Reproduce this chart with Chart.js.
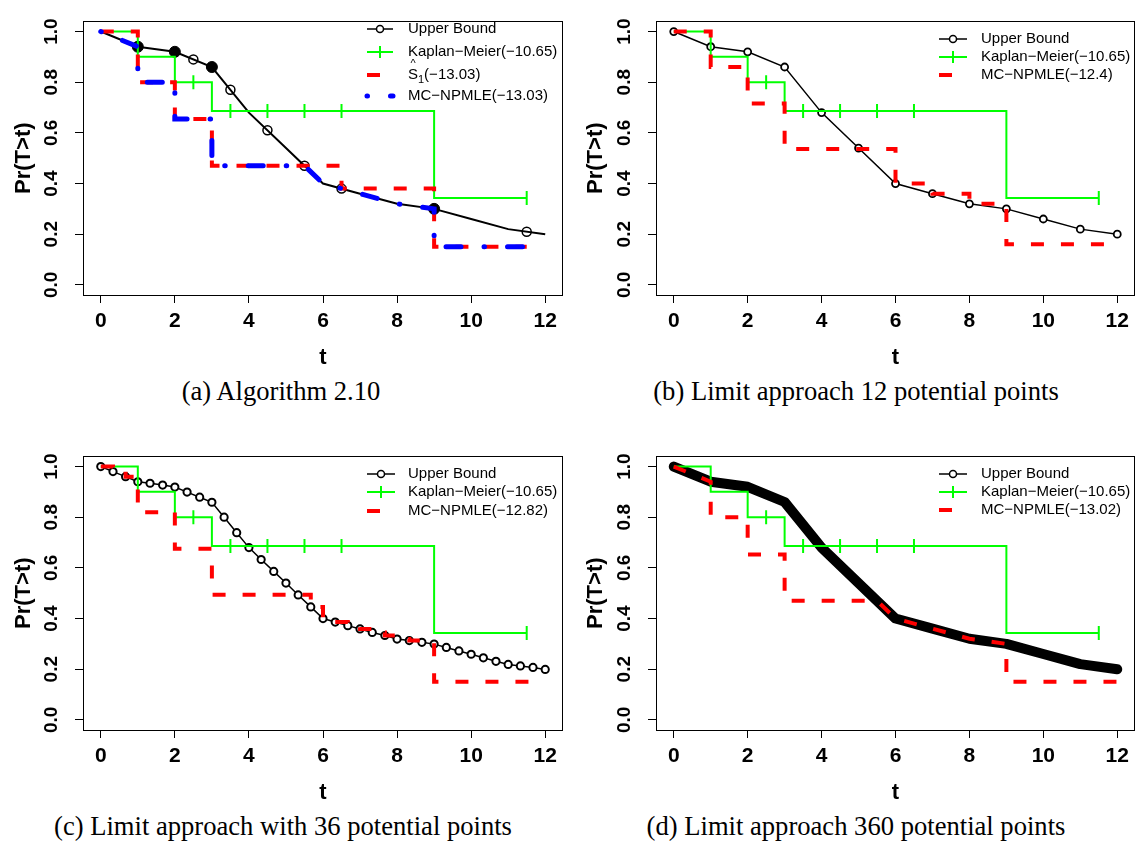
<!DOCTYPE html>
<html>
<head>
<meta charset="utf-8">
<script src="https://cdn.jsdelivr.net/npm/chart.js@4.4.1/dist/chart.umd.min.js"></script>
<style>
body{margin:0;background:#fff;width:1144px;height:846px;position:relative;overflow:hidden}
canvas{position:absolute}
.cap{position:absolute;font-family:"Liberation Serif","Times New Roman",serif;font-size:26.6px;line-height:30px;color:#000;white-space:nowrap;transform:translateX(-50%)}
</style>
</head>
<body>
<canvas id="ca" width="572" height="375" style="left:0;top:0"></canvas>
<canvas id="cb" width="572" height="375" style="left:572px;top:0"></canvas>
<canvas id="cc" width="572" height="375" style="left:0;top:435px"></canvas>
<canvas id="cd" width="572" height="375" style="left:572px;top:435px"></canvas>
<div class="cap" style="left:281px;top:376px">(a) Algorithm 2.10</div>
<div class="cap" style="left:856px;top:376px">(b) Limit approach 12 potential points</div>
<div class="cap" style="left:283px;top:811px">(c) Limit approach with 36 potential points</div>
<div class="cap" style="left:856px;top:811px">(d) Limit approach 360 potential points</div>
<script>
// axis ticks
const xTicks = [0, 2, 4, 6, 8, 10, 12];
const xTickLabels = ["0", "2", "4", "6", "8", "10", "12"];
const yTicks = [0, 0.2, 0.4, 0.6, 0.8, 1.0];
const yTickLabels = ["0.0", "0.2", "0.4", "0.6", "0.8", "1.0"];

// upper bound (integer grid)
const ubT = [0, 1, 2, 3, 4, 5, 6, 7, 8, 9, 10, 11, 12];
const ubS = [1.00, 0.94, 0.92, 0.86, 0.68, 0.54, 0.40, 0.36, 0.32, 0.30, 0.26, 0.22, 0.20];

// Kaplan-Meier, same in every panel
const kmT = [0, 1, 2, 3, 9, 11.5];
const kmS = [1.00, 0.90, 0.80, 0.686, 0.343, 0.343];
const kmCensT = [2.5, 3.5, 4.5, 5.5, 6.5, 11.5];
const kmCensS = [0.80, 0.686, 0.686, 0.686, 0.686, 0.343];

// (a) Algorithm 2.10
const aOpenT = [2.5, 3.5, 4.5, 5.5, 6.5, 11.5];
const aOpenS = [0.89, 0.77, 0.61, 0.47, 0.38, 0.21];
const aFillT = [1, 2, 3, 9];
const aFillS = [0.94, 0.92, 0.86, 0.30];
const s1T = [0, 1, 2, 3, 6.5, 9, 11.5];
const s1S = [1.00, 0.80, 0.655, 0.47, 0.38, 0.15, 0.15];
const aMcT = [0, 1, 1, 2, 2, 3, 3, 5.5, 6, 7, 8, 9, 9, 11.5];
const aMcS = [1.00, 0.94, 0.80, 0.80, 0.655, 0.655, 0.47, 0.47, 0.40, 0.36, 0.32, 0.30, 0.15, 0.15];

// (b) 12 potential points
const bMcT = [0, 1, 2, 3, 6, 7, 8, 9, 12];
const bMcS = [1.00, 0.86, 0.716, 0.536, 0.40, 0.36, 0.32, 0.16, 0.16];

// (c) 36 potential points
const cUbT = [0, 0.33, 0.67, 1, 1.33, 1.67, 2, 2.33, 2.67, 3, 3.33, 3.67, 4, 4.33, 4.67, 5, 5.33, 5.67, 6,
  6.33, 6.67, 7, 7.33, 7.67, 8, 8.33, 8.67, 9, 9.33, 9.67, 10, 10.33, 10.67, 11, 11.33, 11.67, 12];
const cUbS = [1.00, 0.98, 0.96, 0.94, 0.934, 0.927, 0.919, 0.899, 0.879, 0.859, 0.80, 0.739, 0.68, 0.633, 0.586, 0.54, 0.493, 0.446, 0.40,
  0.386, 0.372, 0.359, 0.345, 0.333, 0.319, 0.313, 0.306, 0.299, 0.286, 0.272, 0.259, 0.245, 0.231, 0.219, 0.213, 0.207, 0.199];
const cMcT = [0, 0.33, 0.67, 1, 2, 3, 5.67, 6, 6.33, 6.67, 7, 7.33, 7.67, 8, 8.33, 8.67, 9, 12];
const cMcS = [1.00, 0.98, 0.96, 0.82, 0.675, 0.494, 0.446, 0.40, 0.386, 0.372, 0.359, 0.345, 0.333, 0.319, 0.313, 0.306, 0.15, 0.15];

// (d) 360 potential points
const dMcT = [0, 1, 1, 2, 2, 3, 3, 5.5, 6, 7, 8, 9, 9, 12];
const dMcS = [1.00, 0.94, 0.80, 0.80, 0.653, 0.653, 0.47, 0.47, 0.40, 0.36, 0.32, 0.30, 0.15, 0.15];

const labelsA = ["Upper Bound", "Kaplan\u2212Meier(\u221210.65)", "(\u221213.03)", "MC\u2212NPMLE(\u221213.03)"];
const labelsB = ["Upper Bound", "Kaplan\u2212Meier(\u221210.65)", "MC\u2212NPMLE(\u221212.4)"];
const labelsC = ["Upper Bound", "Kaplan\u2212Meier(\u221210.65)", "MC\u2212NPMLE(\u221212.82)"];
const labelsD = ["Upper Bound", "Kaplan\u2212Meier(\u221210.65)", "MC\u2212NPMLE(\u221213.02)"];

const FONT = '"Liberation Sans", Arial, Helvetica, sans-serif';
const GREEN = "#00ff00", RED = "#ff0000", BLUE = "#0000ff", BLACK = "#000000";
const RED_DASH = [13, 17];
const BLUE_DASH = [0.5, 23, 15, 23];

Chart.defaults.font.family = FONT;
Chart.defaults.color = "#000";

const pts = (xs, ys) => xs.map((x, i) => ({ x, y: ys[i] }));

function line(xs, ys, color, width, order, extra) {
  return Object.assign({
    data: pts(xs, ys), showLine: true, borderColor: color, backgroundColor: color,
    borderWidth: width, pointRadius: 0, fill: false, order
  }, extra || {});
}
function marks(xs, ys, order, extra) {
  return Object.assign({ data: pts(xs, ys), showLine: false, order }, extra);
}
function kmSets() {
  return [
    line(kmT, kmS, GREEN, 2, 3, { stepped: true }),
    marks(kmCensT, kmCensS, 3, { pointStyle: "line", pointRotation: 90, pointRadius: 7,
      pointBorderColor: GREEN, pointBorderWidth: 2 })
  ];
}

// legend drawn the way R does it (no frame)
const legends = {
  ca: { x: 367, len: 26, tx: 408, rows: [29, 52, 75, 96], items: [
    { text: labelsA[0], color: BLACK, width: 1.5, marker: "circle" },
    { text: labelsA[1], color: GREEN, width: 2, marker: "tick" },
    { text: labelsA[2], color: RED, width: 4, dash: RED_DASH, hat: true },
    { text: labelsA[3], color: BLUE, width: 5, dash: BLUE_DASH, cap: "round" }
  ] },
  cb: { x: 367, len: 28, tx: 409, rows: [39, 57, 75], items: [
    { text: labelsB[0], color: BLACK, width: 1.5, marker: "circle" },
    { text: labelsB[1], color: GREEN, width: 2, marker: "tick" },
    { text: labelsB[2], color: RED, width: 4, dash: RED_DASH }
  ] },
  cc: { x: 367, len: 28, tx: 408, rows: [39, 57, 76], items: [
    { text: labelsC[0], color: BLACK, width: 1.5, marker: "circle" },
    { text: labelsC[1], color: GREEN, width: 2, marker: "tick" },
    { text: labelsC[2], color: RED, width: 4, dash: RED_DASH }
  ] },
  cd: { x: 367, len: 28, tx: 409, rows: [39, 57, 75], items: [
    { text: labelsD[0], color: BLACK, width: 1.5, marker: "circle" },
    { text: labelsD[1], color: GREEN, width: 2, marker: "tick" },
    { text: labelsD[2], color: RED, width: 4, dash: RED_DASH }
  ] }
};

const rLegend = {
  id: "rLegend",
  afterDatasetsDraw(chart) {
    const L = legends[chart.canvas.id];
    const ctx = chart.ctx;
    ctx.save();
    L.items.forEach((it, i) => {
      const y = L.rows[i];
      ctx.beginPath();
      ctx.setLineDash(it.dash || []);
      ctx.lineCap = it.cap || "butt";
      ctx.strokeStyle = it.color;
      ctx.lineWidth = it.width;
      ctx.moveTo(L.x, y);
      ctx.lineTo(L.x + L.len, y);
      ctx.stroke();
      ctx.setLineDash([]);
      const mx = L.x + L.len / 2;
      if (it.marker === "circle") {
        ctx.beginPath();
        ctx.lineWidth = 1.5;
        ctx.arc(mx, y, 3.5, 0, Math.PI * 2);
        ctx.fillStyle = "#fff";
        ctx.fill();
        ctx.stroke();
      } else if (it.marker === "tick") {
        ctx.beginPath();
        ctx.lineWidth = 2;
        ctx.moveTo(mx, y - 6);
        ctx.lineTo(mx, y + 6);
        ctx.stroke();
      }
      ctx.fillStyle = "#000";
      ctx.textBaseline = "middle";
      ctx.textAlign = "left";
      ctx.font = "15px " + FONT;
      let tx = L.tx;
      if (it.hat) {
        ctx.fillText("S", tx, y);
        const w = ctx.measureText("S").width;
        ctx.font = "11px " + FONT;
        ctx.textAlign = "center";
        ctx.fillText("^", tx + w / 2, y - 11);
        ctx.textAlign = "left";
        ctx.fillText("1", tx + w, y + 5);
        tx += w + ctx.measureText("1").width;
        ctx.font = "15px " + FONT;
      }
      ctx.fillText(it.text, tx, y);
    });
    ctx.restore();
  }
};

const rBox = {
  id: "rBox",
  afterDraw(chart) {
    const { left, top, right, bottom } = chart.chartArea;
    const ctx = chart.ctx;
    ctx.save();
    ctx.strokeStyle = "#000";
    ctx.lineWidth = 1;
    ctx.strokeRect(Math.round(left) + 0.5, Math.round(top) + 0.5, Math.round(right - left) - 1, Math.round(bottom - top));
    ctx.restore();
  }
};

function makeChart(id, datasets, rightCol) {
  return new Chart(document.getElementById(id), {
    type: "scatter",
    data: { datasets },
    options: {
      responsive: false,
      animation: false,
      events: [],
      layout: { padding: { top: 10, right: rightCol ? 4 : 5, left: 0, bottom: 0 } },
      plugins: { legend: { display: false }, tooltip: { enabled: false } },
      scales: {
        x: {
          type: "linear", min: -0.48, max: 12.48,
          afterBuildTicks: s => { s.ticks = xTicks.map(v => ({ value: v })); },
          afterFit: s => { s.height = 80; },
          grid: { display: true, drawOnChartArea: false, drawTicks: true, tickLength: 8, color: "#000", lineWidth: 1 },
          border: { display: false },
          ticks: { font: { size: 21, weight: "bold" }, color: "#000", padding: 6, autoSkip: false,
            minRotation: 0, maxRotation: 0, callback: (v, i) => xTickLabels[i] },
          title: { display: true, text: "t", color: "#000", font: { size: 22, weight: "bold" }, padding: { top: 0, bottom: 4 } }
        },
        y: {
          type: "linear", min: -0.04, max: 1.04,
          afterBuildTicks: s => { s.ticks = yTicks.map(v => ({ value: v })); },
          afterFit: s => { s.width = rightCol ? 84 : 83; },
          grid: { display: true, drawOnChartArea: false, drawTicks: true, tickLength: 8, color: "#000", lineWidth: 1 },
          border: { display: false },
          ticks: { font: { size: 19, weight: "bold" }, color: "#000", padding: 10, autoSkip: false,
            minRotation: 90, maxRotation: 90, crossAlign: "center", callback: (v, i) => yTickLabels[i] },
          title: { display: true, text: "Pr(T>t)", color: "#000", font: { size: 22, weight: "bold" }, padding: { top: 11, bottom: 0 } }
        }
      }
    },
    plugins: [rBox, rLegend]
  });
}

// (a)
makeChart("ca", [
  line(aMcT, aMcS, BLUE, 5, 1, { borderDash: BLUE_DASH, borderCapStyle: "round" }),
  line(s1T, s1S, RED, 4, 2, { stepped: true, borderDash: RED_DASH }),
  ...kmSets(),
  line(ubT, ubS, BLACK, 2, 4),
  marks(aOpenT, aOpenS, 4, { pointStyle: "circle", pointRadius: 4.5, pointBorderWidth: 1.5,
    pointBorderColor: BLACK, pointBackgroundColor: "rgba(0,0,0,0)" }),
  marks(aFillT, aFillS, 4, { pointStyle: "circle", pointRadius: 5.5, pointBorderWidth: 1,
    pointBorderColor: BLACK, pointBackgroundColor: BLACK })
], false);

// (b)
makeChart("cb", [
  line(bMcT, bMcS, RED, 4, 2, { stepped: true, borderDash: RED_DASH }),
  ...kmSets(),
  line(ubT, ubS, BLACK, 1.5, 4, { pointRadius: 3.5, pointBorderWidth: 1.8, pointBorderColor: BLACK, pointBackgroundColor: "#fff" })
], true);

// (c)
makeChart("cc", [
  line(cMcT, cMcS, RED, 4, 2, { stepped: true, borderDash: RED_DASH }),
  ...kmSets(),
  line(cUbT, cUbS, BLACK, 1.5, 4, { pointRadius: 3.6, pointBorderWidth: 2, pointBorderColor: BLACK, pointBackgroundColor: "#fff" })
], false);

// (d)
makeChart("cd", [
  line(dMcT, dMcS, RED, 4, 2, { borderDash: RED_DASH }),
  ...kmSets(),
  line(ubT, ubS, BLACK, 10, 4, { borderJoinStyle: "round", borderCapStyle: "round" })
], true);
</script>
</body>
</html>
